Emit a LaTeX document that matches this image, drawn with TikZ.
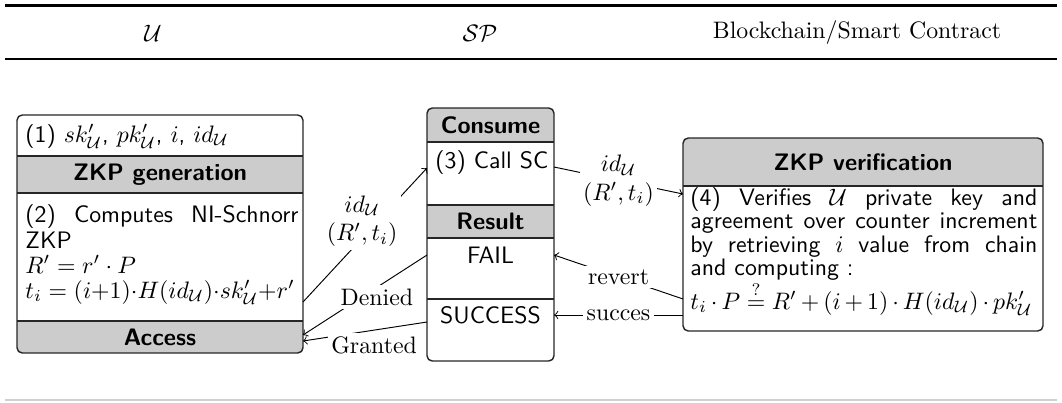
\documentclass[tikz,border=0pt]{standalone}
\usetikzlibrary{fit,calc}
\definecolor{bandgray}{gray}{0.8}
\definecolor{rulegray}{gray}{0.82}
\newcommand{\fillline}[2]{\makebox[#1][s]{#2}}
\begin{document}
\begin{tikzpicture}[x=0.42pt, y=-0.42pt,
  region/.style={rectangle, inner sep=0pt, outer sep=0pt},
  boxline/.style={line width=0.6pt, draw=black!85},
  headtext/.style={font=\sffamily\bfseries, inner sep=0pt},
  bodytext/.style={font=\sffamily, inner sep=0pt, anchor=base west},
  flow/.style={->, line width=0.4pt},
  tag/.style={fill=white, inner sep=1.5pt, align=center},
  corner/.style={rounded corners=2.2pt},
]
\useasboundingbox (0,0) rectangle (1062,402);

% ---- header of the table ----
\draw[line width=1.1pt] (5,5.5) -- (1057,5.5);
\draw[line width=1.1pt] (5,59) -- (1057,59);
\node (hu)  at (153,33) {$\mathcal{U}$};
\node (hsp) at (480,33) {$\mathcal{SP}$};
\node (hbc) at (857,33) {Blockchain/Smart Contract};
\draw[rulegray, line width=0.5pt] (5,400) -- (1057,400);

% ---- user box ----
\node[region, fit={(17,115) (303,156)}] (u1) {};
\node[region, fit={(17,156) (303,193)}] (u2) {};
\node[region, fit={(17,193) (303,321)}] (u3) {};
\node[region, fit={(17,321) (303,353)}] (u4) {};
\begin{scope}
  \clip[corner] (u1.north west) rectangle (u4.south east);
  \fill[bandgray] (u2.north west) rectangle (u2.south east);
  \fill[bandgray] (u4.north west) rectangle (u4.south east);
\end{scope}
\draw[boxline, corner] (u1.north west) rectangle (u4.south east);
\draw[boxline] (u2.north west) -- (u2.north east)
               (u2.south west) -- (u2.south east)
               (u4.north west) -- (u4.north east);
\node[bodytext] (t1) at ($(u1.north west)+(8,27)$)
  {(1) $sk'_{\mathcal U}$, $pk'_{\mathcal U}$, $i$, $id_{\mathcal U}$};
\node[headtext] (t2) at (u2.center) {ZKP generation};
\node[bodytext] (t3a) at ($(u3.north west)+(8,29)$)
  {\fillline{114.7pt}{(2) Computes NI-Schnorr}};
\node[bodytext] (t3b) at ($(u3.north west)+(8,55)$) {ZKP};
\node[bodytext] (t3c) at ($(u3.north west)+(8,80)$) {$R'=r'\cdot P$};
\node[bodytext] (t3d) at ($(u3.north west)+(8,105)$)
  {$t_i=(i{+}1){\cdot}H(id_{\mathcal U}){\cdot}sk'_{\mathcal U}{+}r'$};
\node[headtext] (t4) at (u4.center) {Access};

% ---- service provider box ----
\node[region, fit={(427,108) (554,142)}] (m1) {};
\node[region, fit={(427,142) (554,205)}] (m2) {};
\node[region, fit={(427,205) (554,238)}] (m3) {};
\node[region, fit={(427,238) (554,299)}] (m4) {};
\node[region, fit={(427,299) (554,361)}] (m5) {};
\begin{scope}
  \clip[corner] (m1.north west) rectangle (m5.south east);
  \fill[bandgray] (m1.north west) rectangle (m1.south east);
  \fill[bandgray] (m3.north west) rectangle (m3.south east);
\end{scope}
\draw[boxline, corner] (m1.north west) rectangle (m5.south east);
\draw[boxline] (m1.south west) -- (m1.south east)
               (m3.north west) -- (m3.north east)
               (m3.south west) -- (m3.south east)
               (m5.north west) -- (m5.north east);
\node[headtext] (s1) at (m1.center) {Consume};
\node[bodytext] (s2) at ($(m2.north west)+(8,26)$) {(3) Call SC};
\node[headtext] (s3) at (m3.center) {Result};
\node[bodytext, anchor=base] (s4) at ($(m4.north)+(0,25)$) {FAIL};
\node[bodytext, anchor=base] (s5) at ($(m5.north)+(0,24)$) {SUCCESS};

% ---- smart contract box ----
\node[region, fit={(683,138) (1043,186)}] (r1) {};
\node[region, fit={(683,186) (1043,331)}] (r2) {};
\begin{scope}
  \clip[corner] (r1.north west) rectangle (r2.south east);
  \fill[bandgray] (r1.north west) rectangle (r1.south east);
\end{scope}
\draw[boxline, corner] (r1.north west) rectangle (r2.south east);
\draw[boxline] (r1.south west) -- (r1.south east);
\node[headtext] (c1) at (r1.center) {ZKP verification};
\node[bodytext] (c2a) at ($(r2.north west)+(7,19)$)
  {\fillline{145.7pt}{(4) Verifies $\mathcal U$ private key and}};
\node[bodytext] (c2b) at ($(r2.north west)+(7,42.5)$)
  {\fillline{145.7pt}{agreement over counter increment}};
\node[bodytext] (c2c) at ($(r2.north west)+(7,66)$)
  {\fillline{145.7pt}{by retrieving $i$ value from chain}};
\node[bodytext] (c2d) at ($(r2.north west)+(7,89.5)$) {and computing :};
\node[bodytext] (c2e) at ($(r2.north west)+(7,123)$)
  {$\medmuskip=3mu t_i\cdot P \stackrel{?}{=} R'+(i+1)\cdot H(id_{\mathcal U})\cdot pk'_{\mathcal U}$};

% ---- attachment points on the box edges ----
\coordinate (uOut)    at ($(u3.south east)+(0,-19)$);
\coordinate (uDenied) at ($(u4.north east)+(0,14)$);
\coordinate (uGrant)  at ($(u4.north east)+(0,20)$);
\coordinate (mIn)     at ($(m2.north west)+(0,26)$);
\coordinate (mOut)    at ($(m2.north east)+(0,25)$);
\coordinate (mFailR)  at ($(m4.north east)+(0,17)$);
\coordinate (mFailL)  at ($(m4.north west)+(0,17)$);
\coordinate (mSuccR)  at ($(m5.north east)+(0,16)$);
\coordinate (mSuccL)  at ($(m5.north west)+(0,23)$);
\coordinate (rIn)     at ($(r2.north west)+(0,8)$);
\coordinate (rRevert) at ($(r2.south west)+(0,-32)$);
\coordinate (rSucc)   at ($(r2.south west)+(0,-16)$);

% ---- messages ----
\draw[flow] (uOut) -- node[tag, midway, xshift=-1.2pt, yshift=5.8pt]
  {$id_{\mathcal U}$\\$(R',t_i)$} (mIn);
\draw[flow] (mOut) -- node[tag, midway] {$id_{\mathcal U}$\\$(R',t_i)$} (rIn);
\draw[flow] (rRevert) -- node[tag, midway] {revert} (mFailR);
\draw[flow] (rSucc) -- node[tag, midway] {succes} (mSuccR);
\draw[flow] (mFailL) -- node[tag, midway, xshift=5pt, yshift=-0.8pt] {Denied} (uDenied);
\draw[flow] (mSuccL) -- node[tag, midway, xshift=3.8pt, yshift=-5.7pt] {Granted} (uGrant);
\end{tikzpicture}
\end{document}
